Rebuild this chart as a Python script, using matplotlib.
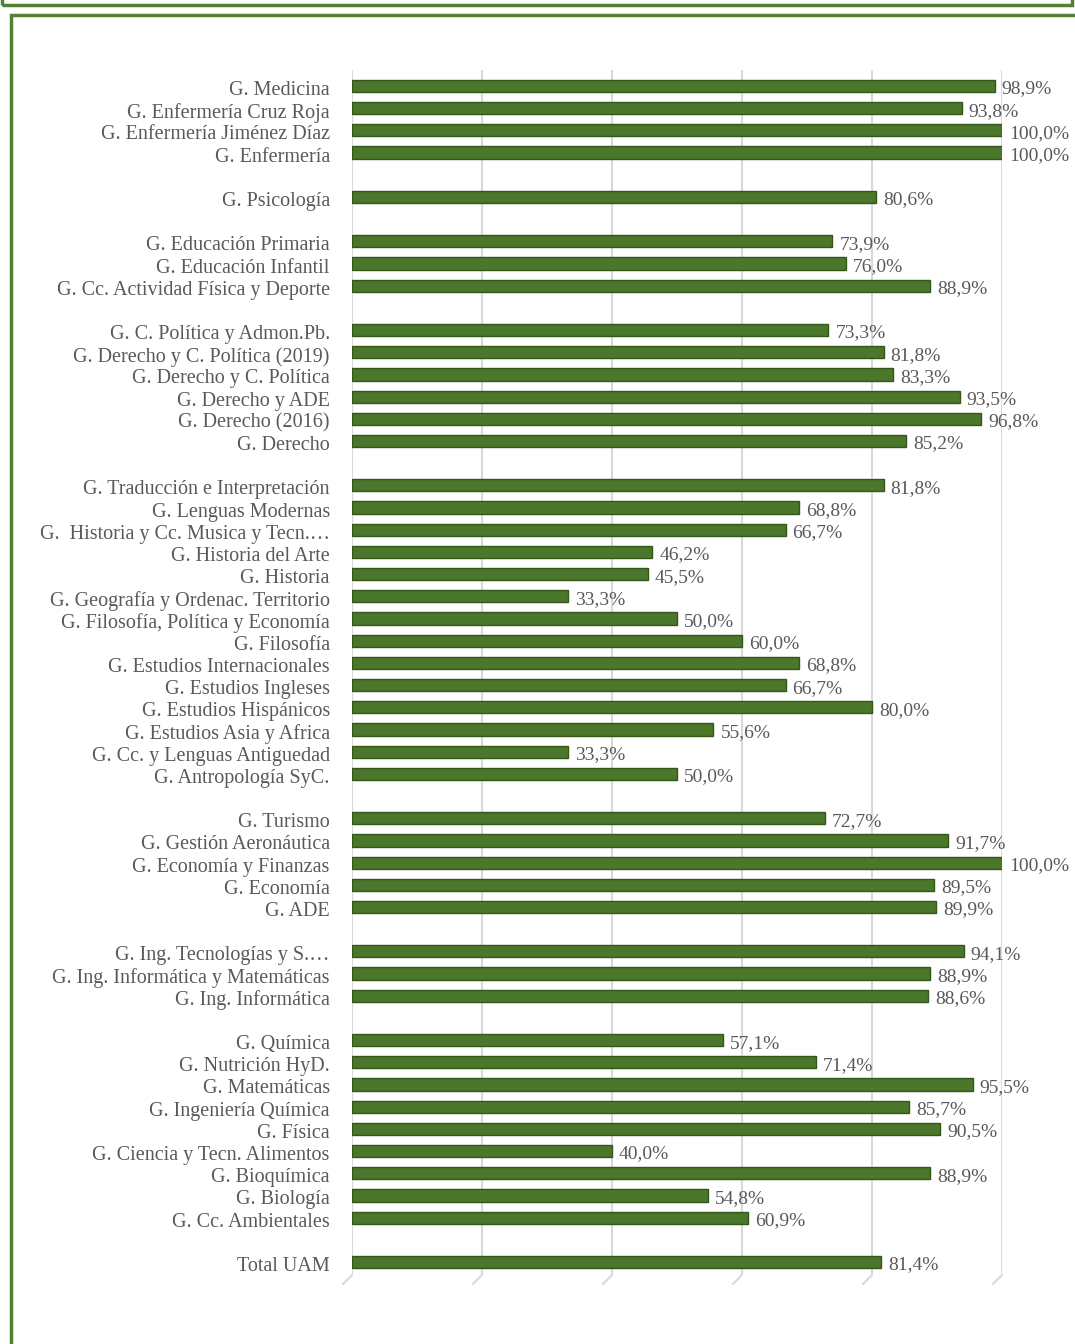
import matplotlib
matplotlib.use("Agg")
import matplotlib.pyplot as plt
from matplotlib.patches import Rectangle
from matplotlib.transforms import ScaledTranslation
import numpy as np

# None marks an empty spacer row between groups
LABELS = [
    "G. Medicina", "G. Enfermería Cruz Roja", "G. Enfermería Jiménez Díaz", "G. Enfermería",
    None,
    "G. Psicología",
    None,
    "G. Educación Primaria", "G. Educación Infantil", "G. Cc. Actividad Física y Deporte",
    None,
    "G. C. Política y Admon.Pb.", "G. Derecho y C. Política (2019)", "G. Derecho y C. Política",
    "G. Derecho y ADE", "G. Derecho (2016)", "G. Derecho",
    None,
    "G. Traducción e Interpretación", "G. Lenguas Modernas", "G.  Historia y Cc. Musica y Tecn.…",
    "G. Historia del Arte", "G. Historia", "G. Geografía y Ordenac. Territorio",
    "G. Filosofía, Política y Economía", "G. Filosofía", "G. Estudios Internacionales",
    "G. Estudios Ingleses", "G. Estudios Hispánicos", "G. Estudios Asia y Africa",
    "G. Cc. y Lenguas Antiguedad", "G. Antropología SyC.",
    None,
    "G. Turismo", "G. Gestión Aeronáutica", "G. Economía y Finanzas", "G. Economía", "G. ADE",
    None,
    "G. Ing. Tecnologías y S.…", "G. Ing. Informática y Matemáticas", "G. Ing. Informática",
    None,
    "G. Química", "G. Nutrición HyD.", "G. Matemáticas", "G. Ingeniería Química", "G. Física",
    "G. Ciencia y Tecn. Alimentos", "G. Bioquímica", "G. Biología", "G. Cc. Ambientales",
    None,
    "Total UAM",
]

VALUES = [
    98.9, 93.8, 100.0, 100.0,
    None,
    80.6,
    None,
    73.9, 76.0, 88.9,
    None,
    73.3, 81.8, 83.3, 93.5, 96.8, 85.2,
    None,
    81.8, 68.8, 66.7, 46.2, 45.5, 33.3, 50.0, 60.0, 68.8, 66.7, 80.0, 55.6, 33.3, 50.0,
    None,
    72.7, 91.7, 100.0, 89.5, 89.9,
    None,
    94.1, 88.9, 88.6,
    None,
    57.1, 71.4, 95.5, 85.7, 90.5, 40.0, 88.9, 54.8, 60.9,
    None,
    81.4,
]

GRID_TICKS = [0, 20, 40, 60, 80, 100]

BAR_COLOR = "#4a7729"
BAR_EDGE = "#34561b"
FRAME_COLOR = "#548235"
TEXT_COLOR = "#595959"
GRID_COLOR = "#d9d9d9"

plt.rcParams["font.family"] = ["Liberation Serif", "DejaVu Serif"]

W, H = 1075, 1344
fig = plt.figure(figsize=(W / 100, H / 100), dpi=100)

# axes in pixel positions
left_px, right_px = 352, 1002
top_px, bot_px = 70, 1275
ax = fig.add_axes([left_px / W, 1 - bot_px / H, (right_px - left_px) / W, (bot_px - top_px) / H])

n = len(LABELS)
pitch = (1262 - 86) / (n - 1)
rows = [(i, lab, v) for i, (lab, v) in enumerate(zip(LABELS, VALUES)) if lab is not None]

ax.barh([r[0] for r in rows], [r[2] for r in rows], height=0.55,
        color=BAR_COLOR, edgecolor=BAR_EDGE, linewidth=1.0, zorder=3)

ax.set_xlim(0, 100)
ax.set_ylim(n - 1 + (bot_px - 1262) / pitch, -(86 - top_px) / pitch)

ax.set_xticks(GRID_TICKS)
ax.set_xticklabels([])
ax.tick_params(axis="x", length=0)
ax.grid(axis="x", color=GRID_COLOR, linewidth=1.5, zorder=0)

ax.set_yticks([r[0] for r in rows])
ax.set_yticklabels([r[1] for r in rows], fontsize=14.5, color=TEXT_COLOR)
ax.tick_params(axis="y", length=0, pad=16)
shift = ScaledTranslation(0, -2 / 100, fig.dpi_scale_trans)
for t in ax.get_yticklabels():
    t.set_transform(t.get_transform() + shift)

for s in ax.spines.values():
    s.set_visible(False)

# small slanted "3D" ticks below the grid lines
for gx in GRID_TICKS:
    ax.annotate("", xy=(gx, 0), xycoords=ax.get_xaxis_transform(),
                xytext=(-9, -9), textcoords="offset pixels",
                arrowprops=dict(arrowstyle="-", color=GRID_COLOR, lw=1.5,
                                shrinkA=0, shrinkB=0))

# value labels
for i, lab, v in rows:
    ax.annotate(f"{v:.1f}%".replace(".", ","), xy=(v, i), xytext=(7, -3),
                textcoords="offset pixels", va="center", ha="left",
                fontsize=14, color=TEXT_COLOR, annotation_clip=False, zorder=4)

# frames around the chart
fig.patches.append(Rectangle((1.5 / W, 1 - 4.5 / H), (1072 - 1.5) / W, 0.1,
                             transform=fig.transFigure, fill=False,
                             edgecolor=FRAME_COLOR, linewidth=2.5))
fig.patches.append(Rectangle((11 / W, -0.1), 1.2, 1.1 - 15 / H,
                             transform=fig.transFigure, fill=False,
                             edgecolor=FRAME_COLOR, linewidth=2.5))

fig.savefig("out.png", dpi=100)
